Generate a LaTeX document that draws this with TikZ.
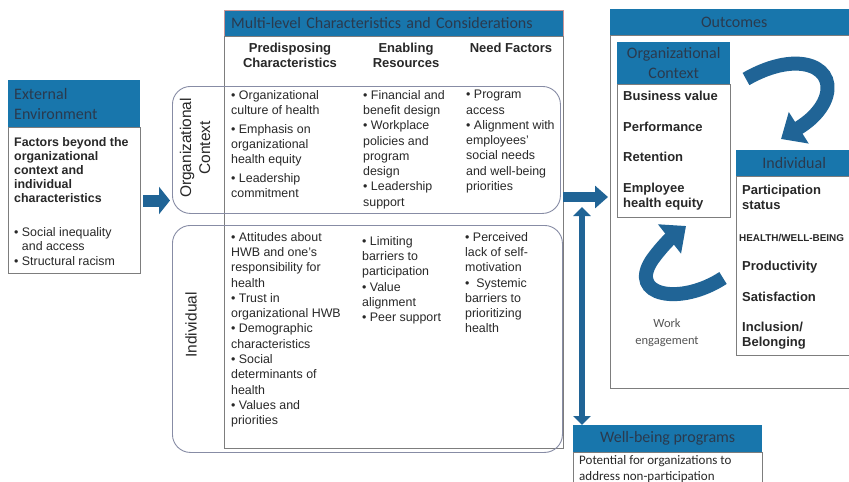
\documentclass[tikz,border=0pt]{standalone}
\usepackage{fontspec}
\setmainfont{Liberation Sans}
\newfontfamily\calibri{Carlito}
\usetikzlibrary{arrows.meta}

\definecolor{hdrblue}{RGB}{24,118,172}
\definecolor{arrowblue}{RGB}{32,100,150}
\definecolor{hdrtext}{RGB}{42,58,78}
\definecolor{boxgray}{RGB}{125,125,125}
\definecolor{roundgray}{RGB}{135,140,165}
\definecolor{pinkline}{RGB}{205,150,150}
\definecolor{textgray}{RGB}{40,40,40}
\definecolor{softgray}{RGB}{85,85,85}

\begin{document}
\begin{tikzpicture}[x=1pt, y=-1pt,
    hdr/.style={fill=hdrblue, text=hdrtext, inner sep=0pt, font=\calibri\fontsize{16}{20}\selectfont},
    box/.style={draw=boxgray, line width=1pt, inner sep=0pt},
    ctxbox/.style={draw=roundgray, line width=0.9pt, rounded corners=18pt, inner sep=0pt},
    blist/.style={anchor=north west, align=left, inner sep=0pt, text=textgray, font=\fontsize{12.4}{15.3}\selectfont},
    colhead/.style={anchor=north, align=center, inner sep=0pt, text=textgray, font=\bfseries\fontsize{13}{15}\selectfont},
    outitem/.style={anchor=north west, align=left, inner sep=0pt, text=textgray, font=\bfseries\fontsize{13}{15}\selectfont},
    sidelabel/.style={rotate=90, align=center, inner sep=0pt, text=textgray, font=\fontsize{15.5}{19}\selectfont},
    blockarrow/.style={draw=arrowblue, line width=12pt, -{Triangle[length=11pt, width=27pt]}},
    swoosh/.style={draw=arrowblue, line width=14pt, -{Triangle[length=21pt, width=36pt]}}
]
    \useasboundingbox (0,0) rectangle (849,482);
    \clip (0,0) rectangle (849,482);
    \fill[white] (0,0) rectangle (849,482);

    % External environment
    \node[hdr, anchor=north west, minimum width=132pt, minimum height=47pt, text width=120pt, align=left] (extHead) at (8,80) {External\\Environment};
    \node[box, anchor=north west, minimum width=132pt, minimum height=146pt] (extBody) at (8,127) {};
    \node[anchor=north west, align=left, inner sep=0pt, text=textgray, font=\bfseries\fontsize{12.4}{14}\selectfont] (extText) at (14,137) {Factors beyond the\\organizational\\context and\\individual\\characteristics};
    \node[blist, font=\fontsize{12.4}{14.5}\selectfont] (extList) at (14,227) {• Social inequality\\\hphantom{• }and access\\• Structural racism};

    % Multi-level frame and column heads
    \node[hdr, draw=pinkline, anchor=north west, minimum width=339pt, minimum height=26pt, text width=325pt, align=left] (multiHead) at (224,10) {Multi-level Characteristics and Considerations};
    \node[box, anchor=north west, minimum width=339pt, minimum height=412pt] (multiBody) at (224,36) {};
    \node[colhead] (predHead) at (290,43) {Predisposing\\Characteristics};
    \node[colhead] (enabHead) at (406,43) {Enabling\\Resources};
    \node[colhead] (needHead) at (511,43) {Need Factors};

    % Organizational context row
    \node[ctxbox, anchor=north west, minimum width=388pt, minimum height=127pt] (orgCtx) at (172,86) {};
    \node[sidelabel] (orgLbl) at (195,148) {Organizational\\Context};
    \node[blist] (orgPred) at (231,90) {• Organizational\\culture of health\\[3.5pt]• Emphasis on\\organizational\\health equity\\[3.5pt]• Leadership\\commitment};
    \node[blist] (orgEnab) at (363,90) {• Financial and\\benefit design\\• Workplace\\policies and\\program\\design\\• Leadership\\support};
    \node[blist] (orgNeed) at (466,90) {• Program\\access\\• Alignment with\\employees’\\social needs\\and well-being\\priorities};

    % Individual row
    \node[ctxbox, anchor=north west, minimum width=390pt, minimum height=227pt] (indCtx) at (172,225) {};
    \node[sidelabel] (indLbl) at (191,325) {Individual};
    \node[blist] (indPred) at (231,232) {• Attitudes about\\HWB and one’s\\responsibility for\\health\\• Trust in\\organizational HWB\\• Demographic\\characteristics\\• Social\\determinants of\\health\\• Values and\\priorities};
    \node[blist] (indEnab) at (362,236) {• Limiting\\barriers to\\participation\\• Value\\alignment\\• Peer support};
    \node[blist] (indNeed) at (465,232) {• Perceived\\lack of self-\\motivation\\•\ \ Systemic\\barriers to\\prioritizing\\health};

    % Outcomes
    \node[hdr, anchor=north west, minimum width=248pt, minimum height=26pt] (outHead) at (610,9) {Outcomes};
    \node[box, anchor=north west, minimum width=248pt, minimum height=353pt] (outBody) at (610,35) {};
    \node[hdr, anchor=north west, minimum width=113pt, minimum height=42pt, align=center] (orgHead) at (617,42) {Organizational\\Context};
    \node[box, anchor=north west, minimum width=113pt, minimum height=133pt] (orgBody) at (617,84) {};
    \node[outitem] (bizVal) at (623,91) {Business value};
    \node[outitem] (perf) at (623,122) {Performance};
    \node[outitem] (retent) at (623,152) {Retention};
    \node[outitem] (empEq) at (623,183) {Employee\\health equity};

    \node[hdr, anchor=north west, minimum width=116pt, minimum height=26pt] (indHead) at (736,150) {Individual};
    \node[box, anchor=north west, minimum width=116pt, minimum height=179pt] (indBody) at (736,176) {};
    \node[outitem] (partic) at (742,185) {Participation\\status};
    \node[outitem, font=\bfseries\fontsize{9.9}{12}\selectfont] (hwb) at (739,234) {HEALTH/WELL-BEING};
    \node[outitem] (prod) at (742,261) {Productivity};
    \node[outitem] (satis) at (742,292) {Satisfaction};
    \node[outitem] (inclu) at (742,322) {Inclusion/\\Belonging};

    % Curved arrows between the outcome levels
    \coordinate (swoopA) at (746,79);
    \coordinate (swoopB) at (781,139);
    \draw[swoosh] (swoopA) .. controls (800,48) and (840,68) .. (824,102) .. controls (816,118) and (800,127) .. (swoopB);
    \coordinate (swoopC) at (723,278);
    \coordinate (swoopD) at (686,226);
    \draw[swoosh] (swoopC) .. controls (680,306) and (628,296) .. (652,260) .. controls (662,246) and (672,237) .. (swoopD);
    \node[align=center, inner sep=0pt, text=softgray, font=\calibri\fontsize{12.5}{17}\selectfont] (workLbl) at (667,333) {Work\\engagement};

    % Well-being programs
    \node[hdr, anchor=north west, minimum width=189pt, minimum height=27pt] (wellHead) at (573,425) {Well-being programs};
    \node[box, anchor=north west, minimum width=189pt, minimum height=50pt] (wellBody) at (573,452) {};
    \node[anchor=north west, align=left, inner sep=0pt, text=textgray, font=\calibri\fontsize{13}{16}\selectfont] (wellText) at (579,455) {Potential for organizations to\\address non-participation};

    % Block arrows
    \draw[blockarrow, shorten <=2pt, shorten >=2pt] (extBody.east) -- (extBody.east -| orgCtx.west);
    \coordinate (multiOut) at (563,197);
    \draw[blockarrow, line width=10pt, -{Triangle[length=13pt, width=22pt]}, shorten >=2pt] (multiOut) -- (multiOut -| outBody.west);
    \coordinate (progTop) at (582,207);
    \draw[draw=arrowblue, line width=6pt, {Triangle[length=9pt, width=17pt]}-{Triangle[length=9pt, width=17pt]}] (progTop) -- (progTop |- wellHead.north);
\end{tikzpicture}
\end{document}
